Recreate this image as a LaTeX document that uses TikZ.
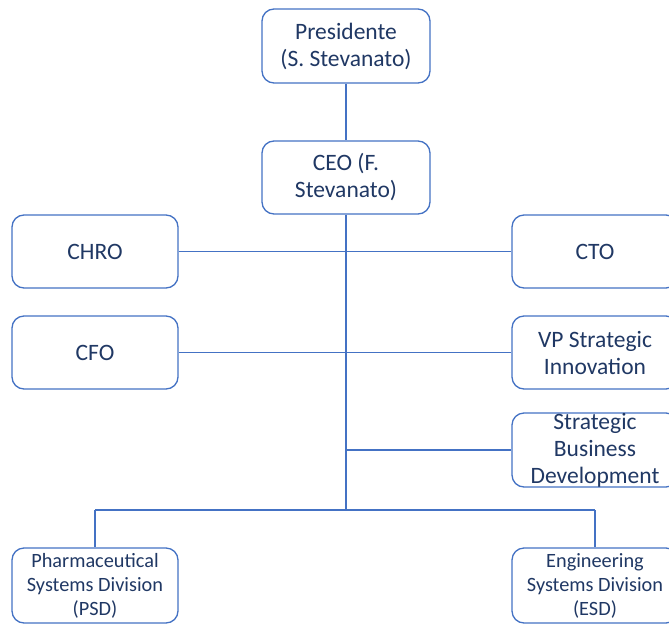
\documentclass[tikz,border=0pt]{standalone}
\usepackage{fontspec}
\setmainfont{Carlito}
\definecolor{boxline}{HTML}{4472C4}
\definecolor{boxtext}{HTML}{203864}
\begin{document}
\begin{tikzpicture}[x=1pt,y=-1pt,
  orgbox/.style={draw=boxline, line width=1.3pt, rounded corners=12pt, fill=white,
    minimum width=166pt, minimum height=73pt, align=center, text=boxtext,
    font=\fontsize{23.5}{27}\selectfont, inner sep=0pt},
  smallbox/.style={orgbox, minimum height=75pt, font=\fontsize{20.3}{24}\selectfont},
  link/.style={draw=boxline, line width=1.3pt}]
\useasboundingbox (0,0) rectangle (669,624);

% boxes
\node[orgbox, minimum width=168pt, minimum height=74pt] (pres) at (346,46) {Presidente\\(S. Stevanato)};
\node[orgbox, minimum width=168pt] (ceo) at (346,177.5) {CEO (F.\\Stevanato)};
\node[orgbox] (chro) at (95,251.5) {CHRO};
\node[orgbox] (cto) at (595,251.5) {CTO};
\node[orgbox] (cfo) at (95,352.5) {CFO};
\node[orgbox] (vp) at (595,352.5) {VP Strategic\\Innovation};
\node[orgbox, minimum height=74pt] (sbd) at (595,450) {Strategic\\Business\\Development};
\node[smallbox] (psd) at (95,585.5) {Pharmaceutical\\Systems Division\\(PSD)};
\node[smallbox] (esd) at (595,585.5) {Engineering\\Systems Division\\(ESD)};

% junction points on the trunk
\coordinate (trunk) at (346,510);
\coordinate (sbdj) at (346,450);
\coordinate (lj) at (95,510);
\coordinate (rj) at (595,510);

% connectors
\draw[link] (pres.south) -- (ceo.north);
\draw[link] (ceo.south) -- (trunk);
\draw[link] (chro.east) -- (cto.west);
\draw[link] (cfo.east) -- (vp.west);
\draw[link] (sbdj) -- (sbd.west);
\draw[link] (lj) -- (rj);
\draw[link] (lj) -- (psd.north);
\draw[link] (rj) -- (esd.north);
\end{tikzpicture}
\end{document}
